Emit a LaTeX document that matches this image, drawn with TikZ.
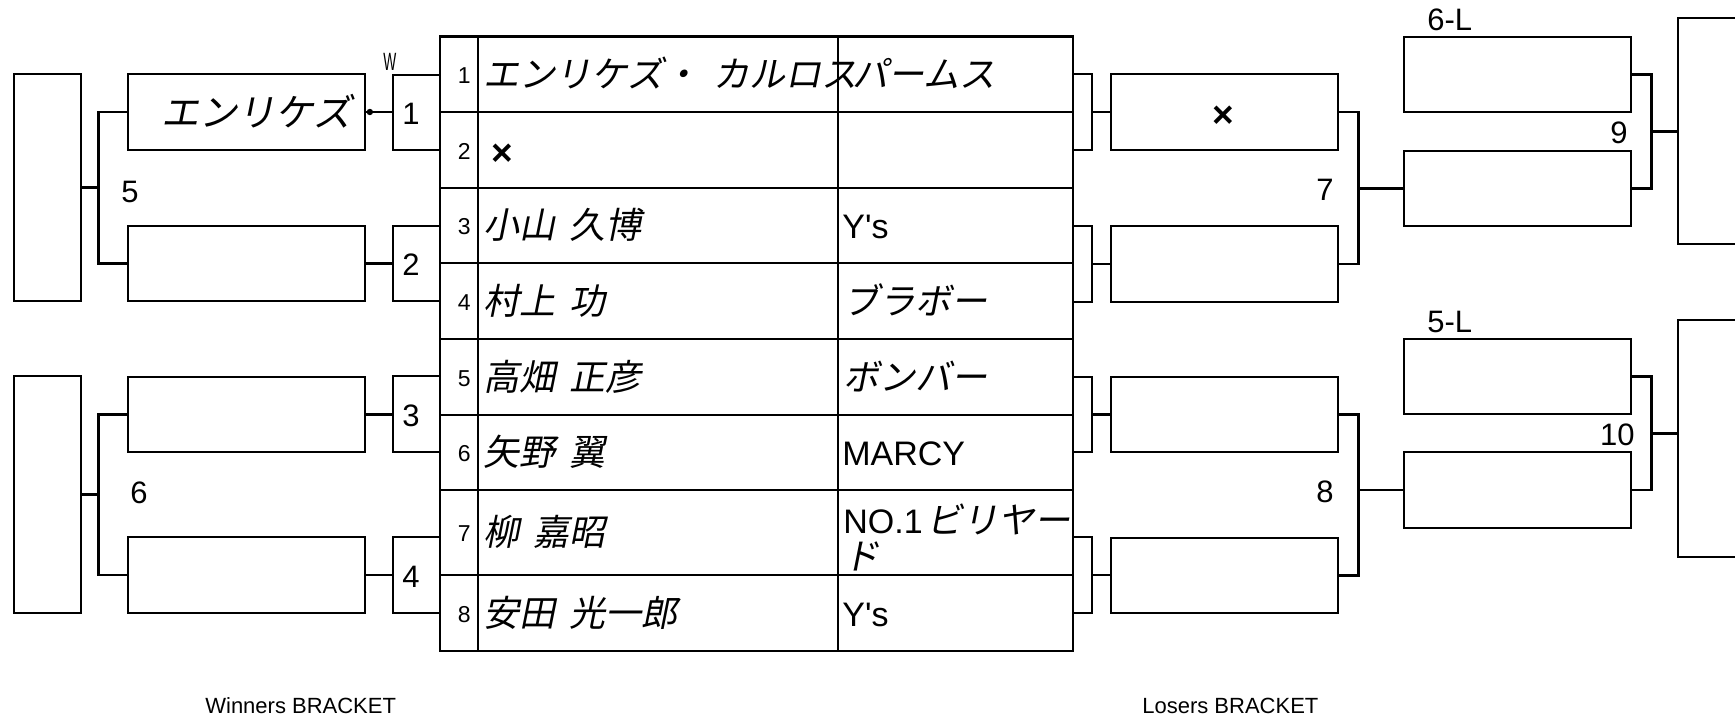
\documentclass[tikz,border=0pt]{standalone}
\usepackage{fontspec}
\setmainfont{Liberation Sans}
\newfontfamily\jpfont[FakeSlant=0.2]{Noto Sans CJK JP}
\newfontfamily\narrowfont[FakeStretch=0.55]{Liberation Sans}
\usetikzlibrary{positioning, calc}
\newcommand\jgap{\hspace{0.4em}}

\begin{document}
\begin{tikzpicture}[x=1pt, y=-1pt, line width=2.7pt]
    \tikzset{
        namebox/.style={draw, inner sep=0pt, minimum width=237, minimum height=76},
        endbox/.style={draw, inner sep=0pt, minimum width=67},
        matchbox/.style={draw, inner sep=0pt, minimum width=47, minimum height=76},
        sidebox/.style={draw, inner sep=0pt, minimum width=19, minimum height=76},
        lbox/.style={draw, inner sep=0pt, minimum width=227, minimum height=76},
        jtext/.style={inner sep=0pt, anchor=base west, font=\jpfont\fontsize{36}{40}\selectfont},
        ltext/.style={inner sep=0pt, anchor=base west, font=\fontsize{34}{40}\selectfont},
        numtext/.style={inner sep=0pt, font=\fontsize{31}{36}\selectfont},
        rowno/.style={inner sep=0pt, anchor=base east, font=\fontsize{23}{26}\selectfont},
        crosstext/.style={inner sep=0pt, font=\bfseries\fontsize{37}{40}\selectfont},
        captext/.style={inner sep=0pt, anchor=base west, font=\fontsize{22}{26}\selectfont}
    }
    \useasboundingbox (0,0) rectangle (1735,720);
    \clip (0,0) rectangle (1735,720);

    % entry table
    \draw (440,36.5) rectangle (1073,651);
    \draw (478,36.5) -- (478,651);
    \draw (838,36.5) -- (838,651);
    \foreach \y in {112,188,263,339,415,490,575} \draw (440,\y) -- (1073,\y);
    \foreach \n/\y in {1/83,2/159,3/234.5,4/310,5/386,6/461.5,7/541.5,8/622}
        \node[rowno] (no\n) at (472,\y) {\n};

    \node[jtext] (p1) at (482,87) {エンリケズ・\jgap カルロス};
    \node[crosstext] (p2) at (502.5,155) {×};
    \node[jtext] (p3) at (482,238.5) {小山\jgap 久博};
    \node[jtext] (p4) at (482,314) {村上\jgap 功};
    \node[jtext] (p5) at (482,390) {高畑\jgap 正彦};
    \node[jtext] (p6) at (482,465.5) {矢野\jgap 翼};
    \node[jtext] (p7) at (482,545.5) {柳\jgap 嘉昭};
    \node[jtext] (p8) at (482,626) {安田\jgap 光一郎};

    \node[jtext] (t1) at (851,87) {パームス};
    \node[ltext] (t3) at (841,238.5) {Y\textquotesingle s};
    \node[jtext] (t4) at (842,314) {ブラボー};
    \node[jtext] (t5) at (842,390) {ボンバー};
    \node[ltext] (t6) at (841,465.5) {MARCY};
    \node[ltext] (t7) at (842,533) {NO.1\hspace{4pt}{\jpfont\fontsize{36}{40}\selectfont ビリヤー}};
    \node[jtext] (t7b) at (842,569) {ド};
    \node[ltext] (t8) at (841,626) {Y\textquotesingle s};

    % winners bracket
    \node[endbox, minimum height=227] (wfA) at (47.5,187.5) {};
    \node[endbox, minimum height=237] (wfB) at (47.5,494.5) {};
    \node[namebox] (wnA) at (246.5,112) {};
    \node[namebox, minimum height=75] (wnB) at (246.5,263.5) {};
    \node[namebox, minimum height=75] (wnC) at (246.5,414.5) {};
    \node[namebox] (wnD) at (246.5,575) {};
    \node[matchbox, minimum height=75] (wm1) at (416.5,112.5) {};
    \node[matchbox, minimum height=75] (wm2) at (416.5,263.5) {};
    \node[matchbox] (wm3) at (416.5,414) {};
    \node[matchbox] (wm4) at (416.5,575) {};

    \node[jtext, anchor=base east, font=\jpfont\fontsize{38}{40}\selectfont] (wtA) at (353,126) {エンリケズ};
    \node[inner sep=0pt, anchor=base west, font=\narrowfont\fontsize{25}{28}\selectfont] (wmark) at (382,70) {W};
    \node[numtext, anchor=base west] (wl1) at (401,124.5) {1};
    \node[numtext, anchor=base west] (wl2) at (401,275.5) {2};
    \node[numtext, anchor=base west] (wl3) at (401,426) {3};
    \node[numtext, anchor=base west] (wl4) at (401,587) {4};
    \node[numtext, anchor=base west] (wl5) at (120,202) {5};
    \node[numtext, anchor=base west] (wl6) at (129,503) {6};

    \draw (wnA.west) -- ++(-28,0) coordinate (wjA) |- (wnB.west);
    \draw (wfA.east) -- (wfA.east -| wjA);
    \draw (wnC.west) -- ++(-28,0) coordinate (wjB) |- (wnD.west);
    \draw (wfB.east) -- (wfB.east -| wjB);
    \draw (wnA.east) -- (wnA.east -| wm1.west);
    \draw (wnB.east) -- (wnB.east -| wm2.west);
    \draw (wnC.east) -- (wnC.east -| wm3.west);
    \draw (wnD.east) -- (wnD.east -| wm4.west);
    \fill (wnA.east) ++(3.5,0) circle (3.2);

    % losers bracket
    \node[sidebox] (ls1) at (1082.5,112) {};
    \node[sidebox] (ls2) at (1082.5,264) {};
    \node[sidebox, minimum height=75] (ls3) at (1082.5,414.5) {};
    \node[sidebox] (ls4) at (1082.5,575) {};
    \node[lbox] (lnA) at (1224.5,112) {};
    \node[lbox] (lnB) at (1224.5,264) {};
    \node[lbox, minimum height=75] (lnC) at (1224.5,414.5) {};
    \node[lbox, minimum height=75] (lnD) at (1224.5,575.5) {};
    \node[lbox, minimum height=75] (lrA) at (1517.5,74.5) {};
    \node[lbox, minimum height=75] (lrB) at (1517.5,188.5) {};
    \node[lbox, minimum height=75] (lrC) at (1517.5,376.5) {};
    \node[lbox] (lrD) at (1517.5,490) {};
    \node[draw, inner sep=0pt, minimum width=82, minimum height=226] (lfA) at (1719,131) {};
    \node[draw, inner sep=0pt, minimum width=82, minimum height=237] (lfB) at (1719,438.5) {};

    \node[crosstext] (lx) at (1223,116.5) {×};
    \node[numtext, anchor=base west] (l6L) at (1426,30) {6-L};
    \node[numtext, anchor=base west] (l5L) at (1426,332) {5-L};
    \node[numtext, anchor=base east] (ll7) at (1335,200) {7};
    \node[numtext, anchor=base east] (ll8) at (1335,502) {8};
    \node[numtext, anchor=base east] (ll9) at (1629,143) {9};
    \node[numtext, anchor=base east] (ll10) at (1636,445) {10};

    \draw (ls1.east) -- (ls1.east -| lnA.west);
    \draw (ls2.east) -- (ls2.east -| lnB.west);
    \draw (ls3.east) -- (ls3.east -| lnC.west);
    \draw (ls4.east) -- (ls4.east -| lnD.west);
    \draw (lnA.east) -- ++(19,0) coordinate (ljA) |- (lnB.east);
    \draw (lrB.west) -- (lrB.west -| ljA);
    \draw (lnC.east) -- ++(19,0) coordinate (ljB) |- (lnD.east);
    \draw (lrD.west) -- (lrD.west -| ljB);
    \draw (lrA.east) -- ++(19,0) coordinate (ljC) |- (lrB.east);
    \path (lrA.east) -- coordinate (mC) (lrB.east);
    \draw (mC -| ljC) -- (mC -| lfA.west);
    \draw (lrC.east) -- ++(19,0) coordinate (ljD) |- (lrD.east);
    \path (lrC.east) -- coordinate (mD) (lrD.east);
    \draw (mD -| ljD) -- (mD -| lfB.west);

    \node[captext] (wcap) at (204,713) {Winners BRACKET};
    \node[captext] (lcap) at (1141,713) {Losers BRACKET};
\end{tikzpicture}
\end{document}
